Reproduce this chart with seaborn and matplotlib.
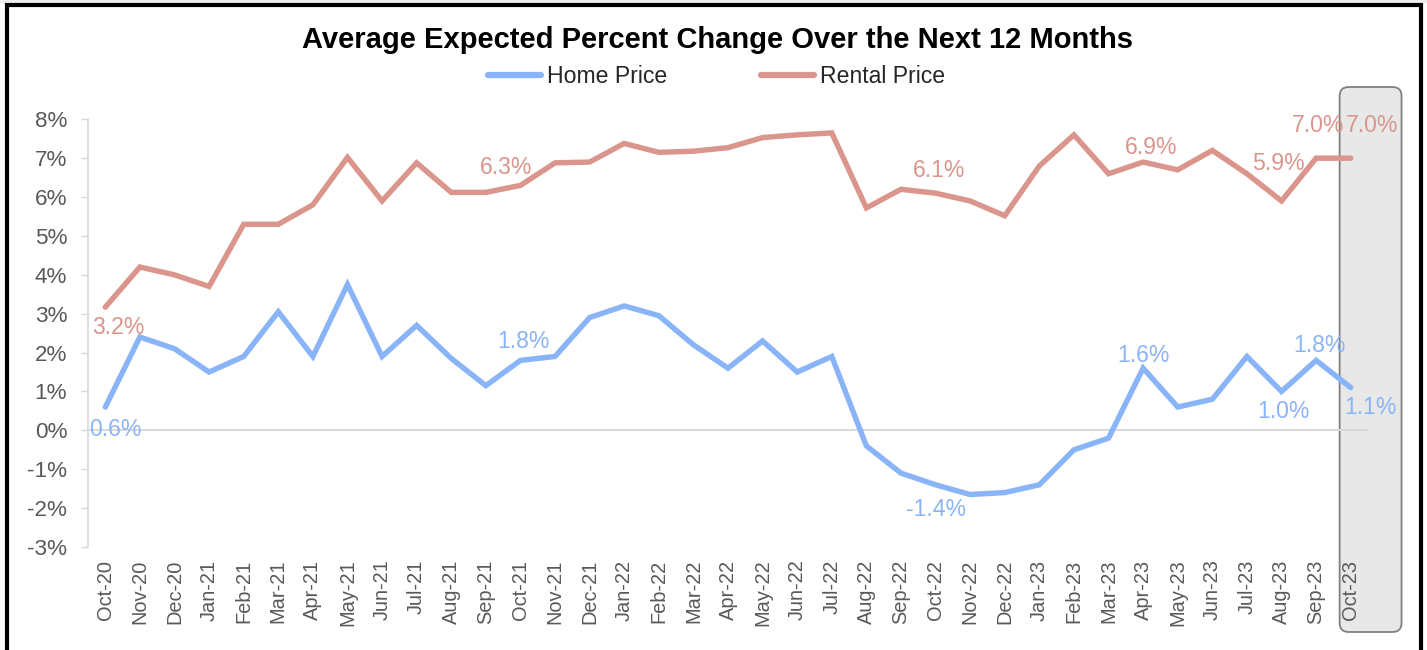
import matplotlib
matplotlib.use("Agg")
import matplotlib.pyplot as plt
import seaborn as sns
import pandas as pd
from matplotlib.patches import FancyBboxPatch, Rectangle

months = ["Oct-20", "Nov-20", "Dec-20", "Jan-21", "Feb-21", "Mar-21", "Apr-21", "May-21",
          "Jun-21", "Jul-21", "Aug-21", "Sep-21", "Oct-21", "Nov-21", "Dec-21", "Jan-22",
          "Feb-22", "Mar-22", "Apr-22", "May-22", "Jun-22", "Jul-22", "Aug-22", "Sep-22",
          "Oct-22", "Nov-22", "Dec-22", "Jan-23", "Feb-23", "Mar-23", "Apr-23", "May-23",
          "Jun-23", "Jul-23", "Aug-23", "Sep-23", "Oct-23"]

home_price = [0.6, 2.4, 2.1, 1.5, 1.9, 3.05, 1.9, 3.75, 1.9, 2.7, 1.85, 1.15,
              1.8, 1.9, 2.9, 3.2, 2.95, 2.2, 1.6, 2.3, 1.5, 1.9, -0.4, -1.1,
              -1.4, -1.65, -1.6, -1.4, -0.5, -0.2, 1.6, 0.6, 0.8, 1.9, 1.0, 1.8, 1.1]

rental_price = [3.17, 4.2, 4.0, 3.7, 5.3, 5.3, 5.8, 7.02, 5.9, 6.88, 6.12, 6.12,
                6.3, 6.88, 6.9, 7.38, 7.15, 7.18, 7.27, 7.53, 7.6, 7.65, 5.72, 6.2,
                6.1, 5.9, 5.52, 6.8, 7.6, 6.6, 6.9, 6.7, 7.2, 6.6, 5.9, 7.0, 7.0]

yticks = [-3, -2, -1, 0, 1, 2, 3, 4, 5, 6, 7, 8]

# which points get a data label, with label offset (pixels: right, up)
home_labels = {0: (10, -22), 12: (3, 19), 24: (0, -25), 30: (0, 13),
               34: (2, -20), 35: (3, 15), 36: (20, -20)}
rental_labels = {0: (13, -20), 12: (-14, 18), 24: (3, 23), 30: (8, 15),
                 34: (-3, 37), 35: (2, 33), 36: (21, 33)}

HOME_C = "#8AB4F8"
RENT_C = "#DA958C"
GRID_C = "#D9D9D9"
TEXT_C = "#595959"

sns.set_theme(style="white")
plt.rcParams["font.family"] = ["Liberation Sans", "DejaVu Sans"]

W, H = 1427, 650
fig = plt.figure(figsize=(W / 100, H / 100), dpi=100)
ax = fig.add_axes([88 / W, 1 - 547 / H, (1368 - 88) / W, (547 - 119.3) / H])

idx = list(range(len(months)))
df = pd.DataFrame({
    "idx": idx * 2,
    "value": home_price + rental_price,
    "series": ["Home Price"] * len(idx) + ["Rental Price"] * len(idx),
})
sns.lineplot(data=df, x="idx", y="value", hue="series",
             palette={"Home Price": HOME_C, "Rental Price": RENT_C},
             linewidth=3.9, ax=ax, legend=True, zorder=3)
for ln in ax.lines:
    ln.set_solid_joinstyle("miter")
    ln.set_solid_capstyle("round")

ax.axhline(0, color=GRID_C, lw=1.5, zorder=2)

ax.set_xlim(-0.5, len(months) - 0.5)
ax.set_ylim(-3, 8)
ax.set_yticks(yticks)
ax.set_yticklabels([f"{t}%" for t in yticks], color=TEXT_C, fontsize=16.2)
ax.set_xticks(idx)
ax.set_xticklabels(months, rotation=90, color=TEXT_C, fontsize=14.4)
ax.tick_params(axis="y", length=5, width=1, color=GRID_C, pad=10, left=True)
ax.tick_params(axis="x", length=0, pad=9)
ax.set_xlabel("")
ax.set_ylabel("")
for s in ["top", "right", "bottom"]:
    ax.spines[s].set_visible(False)
ax.spines["left"].set_color(GRID_C)
ax.spines["left"].set_linewidth(1.2)

# data labels
for series, labels, color in [(home_price, home_labels, HOME_C),
                              (rental_price, rental_labels, RENT_C)]:
    for i, (dx, dy) in labels.items():
        ax.annotate(f"{series[i]:.1f}%", (i, series[i]), xytext=(dx * 0.72, dy * 0.72),
                    textcoords="offset points", ha="center", va="center",
                    color=color, fontsize=16.6, zorder=5, annotation_clip=False)

# legend
handles, labs = ax.get_legend_handles_labels()
ax.get_legend().remove()
leg = fig.legend(handles, labs, loc="center", bbox_to_anchor=(716.5 / W, 1 - 76.7 / H),
                 ncol=2, frameon=False, fontsize=16.6, handlelength=2.3,
                 handletextpad=0.25, columnspacing=4.1, borderpad=0)
for h in leg.get_lines():
    h.set_linewidth(4.5)
    h.set_solid_capstyle("round")

fig.text(717 / W, 1 - 40 / H, "Average Expected Percent Change Over the Next 12 Months",
         ha="center", va="center", fontsize=21, fontweight="bold", color="black")

# highlight box around latest month
fig.canvas.draw()
x0 = ax.transData.transform((len(months) - 1 - 0.32, 0))[0]
x1 = ax.transData.transform((len(months) - 1 + 1.47, 0))[0]
box = FancyBboxPatch((x0, H - 632), x1 - x0, 632 - 87,
                     boxstyle="round,pad=0,rounding_size=9",
                     transform=None, facecolor="#E8E8E8", edgecolor="#808080",
                     linewidth=1.3, zorder=0.5, clip_on=False)
ax.add_patch(box)

# outer frame
fig.patches.append(Rectangle((0, H - 3), W, 3, transform=None, facecolor="#EEEEEE",
                             edgecolor="none", zorder=0))
fig.patches.append(Rectangle((7, -20), 1420.5 - 7, H - 5 + 20, transform=None,
                             facecolor="none", edgecolor="black", linewidth=3.0, zorder=10))

fig.savefig("out.png", dpi=100)
